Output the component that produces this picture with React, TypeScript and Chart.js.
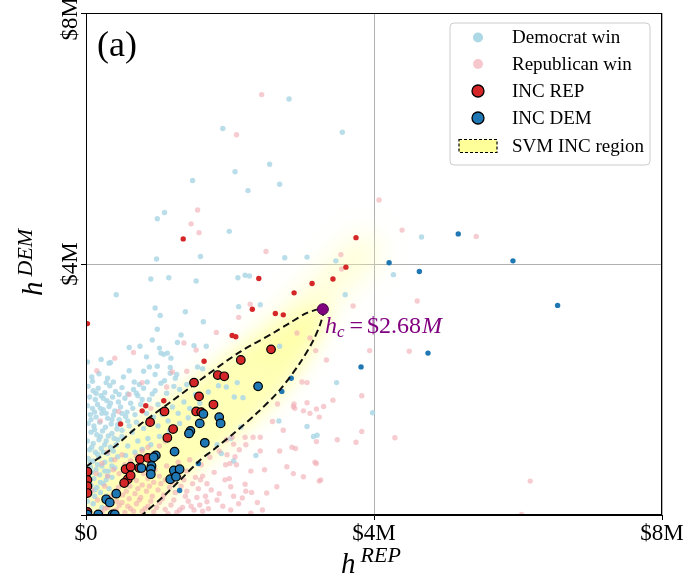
import React, { useEffect, useRef } from 'react';
import { Chart, registerables } from 'chart.js';

Chart.register(...registerables);

type Pt = [number, number];

// All values in $ millions: [h_REP, h_DEM]
const democratWin: Pt[] = [
  // scattered
  [2.82, 6.63], [1.9, 6.16], [3.56, 6.1], [2.55, 5.59], [2.07, 5.47], [1.48, 5.33], [2.69, 5.27], [2.25, 5.17],
  [1.09, 4.82], [0.99, 4.72], [1.99, 4.52], [4.66, 4.43], [1.59, 4.12], [0.98, 4.08], [2.76, 4.1], [3.07, 4.11],
  [3.47, 4.05], [4.27, 3.83], [1.15, 3.78], [2.11, 3.78], [2.21, 3.82], [2.27, 3.81], [0.9, 3.76], [1.53, 3.73],
  [0.42, 3.51], [0.96, 3.3], [1.03, 3.18], [1.38, 3.24], [1.63, 3.08], [2.12, 3.32], [3.6, 3.51], [2.42, 3.35],
  [0.99, 2.96], [1.32, 2.87], [0.92, 2.79], [0.6, 2.67], [0.75, 2.69], [1.02, 2.66], [1.04, 2.58], [1.08, 2.56],
  [1.13, 2.58], [1.18, 2.5], [1.27, 2.75], [1.5, 2.7], [1.67, 2.69], [2.69, 2.69], [0.84, 2.52], [0.21, 2.48],
  [0.32, 2.42], [0.34, 2.43], [0.02, 2.44], [0.88, 2.36], [0.99, 2.37], [1.17, 2.35], [1.17, 2.26], [0.8, 2.29],
  [0.96, 2.24], [1.26, 2.24], [1.55, 2.36], [1.62, 2.33], [1.09, 2.14], [1.24, 2.18], [0.67, 2.12], [0.28, 2.11],
  [0.09, 2.13], [3.48, 2.11], [3.98, 1.63], [3.21, 1.27], [3.07, 1.41], [3.16, 1.25], [2.68, 1.5], [2.36, 0.95],
  [1.82, 1.12], [1.88, 0.98], [2.05, 0.86], [2.01, 1.22], [2.15, 1.4], [2.06, 1.88], [1.95, 2.04], [2.1, 2.11],
  [2.18, 1.87],
  // dense cloud, upper left
  [0.03, 2.05], [0.1, 1.98], [0.17, 2.02], [0.26, 1.95], [0.33, 2.06], [0.41, 1.97], [0.5, 2.03], [0.58, 1.93], [0.66, 2.0],
  [0.05, 1.88], [0.13, 1.84], [0.21, 1.9], [0.29, 1.82], [0.37, 1.88], [0.45, 1.8], [0.54, 1.86], [0.62, 1.78],
  [0.02, 1.74], [0.09, 1.7], [0.16, 1.76], [0.24, 1.68], [0.32, 1.73], [0.4, 1.66], [0.48, 1.72], [0.57, 1.64], [0.65, 1.7],
  [0.06, 1.6], [0.14, 1.56], [0.22, 1.62], [0.3, 1.54], [0.38, 1.59], [0.46, 1.52], [0.55, 1.57],
  [0.03, 1.46], [0.11, 1.42], [0.19, 1.48], [0.27, 1.4], [0.35, 1.45], [0.43, 1.37],
  [0.07, 1.32], [0.15, 1.28], [0.23, 1.34], [0.31, 1.26], [0.39, 1.22],
  [0.02, 1.18], [0.1, 1.14], [0.18, 1.2], [0.26, 1.12],
  [0.08, 2.2], [0.18, 2.25], [0.3, 2.18], [0.52, 2.2], [0.6, 2.3], [0.74, 2.08], [0.92, 1.93], [1.0, 1.76],
  [0.84, 1.62], [0.7, 1.48], [0.6, 1.42], [0.5, 1.62], [0.58, 1.5], [0.07, 1.52], [0.12, 1.64], [0.2, 1.7],
  [0.28, 1.62], [0.36, 1.52], [0.44, 1.44], [0.5, 1.35], [0.12, 1.36], [0.2, 1.25], [0.28, 1.18], [0.36, 1.3],
  [0.44, 1.2], [0.46, 1.92], [0.7, 1.94], [0.78, 1.84], [0.38, 2.12], [0.14, 1.94], [0.24, 1.86], [0.34, 1.78],
  // dense cloud, near origin
  [0.05, 1.04], [0.13, 1.0], [0.21, 1.06], [0.3, 0.98], [0.38, 1.02],
  [0.03, 0.9], [0.1, 0.86], [0.18, 0.92], [0.26, 0.84], [0.35, 0.88], [0.44, 0.93],
  [0.06, 0.76], [0.14, 0.72], [0.22, 0.78], [0.31, 0.7], [0.4, 0.75],
  [0.03, 0.62], [0.11, 0.58], [0.19, 0.64], [0.28, 0.56], [0.36, 0.6],
  [0.07, 0.48], [0.15, 0.44], [0.24, 0.5], [0.32, 0.42],
  [0.04, 0.34], [0.12, 0.3], [0.2, 0.36], [0.1, 0.18], [0.22, 0.12], [0.05, 0.06],
  [0.08, 1.08], [0.16, 0.97], [0.24, 1.0], [0.34, 1.08], [0.42, 1.12], [0.06, 0.84], [0.16, 0.8], [0.26, 0.7],
  [0.36, 0.78], [0.08, 0.68], [0.2, 0.52], [0.3, 0.62], [0.02, 0.52], [0.12, 0.4], [0.28, 0.3], [0.02, 0.22],
  // inside the band
  [0.5, 1.25], [0.58, 1.1], [0.64, 1.32], [0.72, 1.18], [0.8, 1.38], [0.86, 1.22], [0.94, 1.56], [1.0, 1.42],
  [1.06, 1.6], [1.14, 1.5], [1.2, 1.72], [1.28, 1.62], [1.36, 1.8], [1.44, 1.7], [1.52, 1.92], [0.55, 0.95],
  [0.68, 1.0], [0.78, 1.05], [0.9, 1.12], [1.02, 1.25], [1.16, 1.34], [1.3, 1.46], [1.42, 1.55], [1.58, 1.78],
  [1.7, 1.96], [1.84, 2.06],
  // above the band
  [0.72, 1.9], [0.8, 2.02], [0.88, 1.84], [0.96, 1.98], [1.04, 2.1], [1.12, 1.94], [1.22, 2.05], [0.76, 1.76],
  [0.68, 1.6], [1.3, 2.0], [1.4, 2.08], [0.85, 2.12],
];

const republicanWin: Pt[] = [
  // scattered
  [2.44, 6.7], [2.09, 6.06], [4.07, 5.02], [1.55, 4.86], [1.46, 4.64], [1.57, 4.5], [4.39, 4.54], [2.5, 4.2],
  [3.54, 4.15], [3.55, 3.92], [5.42, 4.44], [4.6, 3.41], [4.49, 2.61], [3.94, 2.62], [2.12, 3.15], [1.81, 2.91],
  [0.66, 2.59], [1.36, 2.74], [1.53, 2.63], [1.4, 2.29], [0.78, 2.11], [1.12, 2.04], [2.28, 3.36], [3.71, 3.33],
  [3.83, 1.9], [3.75, 1.16], [2.93, 2.9], [3.11, 2.82], [3.19, 2.62], [3.34, 2.47], [3.43, 1.83], [3.3, 1.73],
  [3.11, 1.62], [2.88, 1.73], [3.2, 0.82], [3.26, 0.56], [2.79, 0.77], [2.88, 0.66], [2.65, 0.45], [2.51, 0.35],
  [3.83, 1.33], [4.29, 1.23], [6.17, 0.54], [6.05, 0.01], [3.07, 2.11], [3.0, 2.12], [3.07, 1.79], [2.89, 1.77],
  [2.9, 1.7], [3.02, 1.66], [3.2, 1.69], [3.24, 1.56], [2.66, 1.77], [2.59, 1.49], [2.74, 1.35], [3.2, 1.17],
  [3.49, 1.2], [2.86, 1.08], [2.91, 1.06], [2.69, 1.02], [2.42, 1.02], [2.32, 1.24], [2.42, 1.24], [3.18, 0.84],
  [3.24, 0.54], [3.02, 0.61], [2.48, 0.72], [2.29, 0.7], [2.21, 0.49], [2.22, 0.38], [2.17, 0.27], [2.01, 0.45],
  [1.99, 0.58], [1.93, 0.56], [1.94, 0.8], [1.82, 0.24], [2.45, 0.08], [2.01, 0.08], [2.29, 0.03], [1.68, 0.21],
  [1.59, 0.56], [2.13, 1.04], [2.22, 1.12], [2.05, 1.13], [2.03, 1.24], [2.21, 1.24], [2.07, 0.93], [1.96, 0.96],
  [2.0, 0.82], [2.09, 0.8],
  // dense, near the h_REP axis
  [0.22, 0.04], [0.3, 0.12], [0.38, 0.06], [0.46, 0.15], [0.54, 0.04], [0.62, 0.1], [0.7, 0.18], [0.78, 0.06],
  [0.86, 0.14], [0.94, 0.05], [1.02, 0.2], [1.1, 0.09], [1.18, 0.16], [1.26, 0.04], [1.34, 0.12], [1.42, 0.22],
  [1.5, 0.08], [1.58, 0.16],
  [0.27, 0.24], [0.35, 0.3], [0.43, 0.22], [0.51, 0.32], [0.6, 0.26], [0.68, 0.34], [0.76, 0.28], [0.84, 0.38],
  [0.92, 0.3], [1.0, 0.4], [1.08, 0.32], [1.16, 0.44], [1.24, 0.36], [1.32, 0.46], [1.4, 0.38], [1.48, 0.5], [1.56, 0.42],
  [0.45, 0.44], [0.53, 0.52], [0.61, 0.46], [0.7, 0.55], [0.78, 0.48], [0.86, 0.58], [0.94, 0.52], [1.02, 0.62],
  [1.1, 0.56], [1.2, 0.66], [1.3, 0.6], [1.4, 0.7],
  [0.26, 0.1], [0.34, 0.18], [0.42, 0.08], [0.5, 0.2], [0.58, 0.14], [0.66, 0.06], [0.74, 0.24], [0.82, 0.1],
  [0.9, 0.22], [0.98, 0.12], [1.06, 0.26], [1.14, 0.02], [1.22, 0.24], [1.3, 0.08], [1.38, 0.3], [1.46, 0.14],
  [1.54, 0.28], [1.62, 0.06], [0.4, 0.36], [0.56, 0.38], [0.72, 0.42], [0.88, 0.46], [1.04, 0.5], [1.2, 0.52],
  [1.36, 0.56], [1.52, 0.6], [0.64, 0.62], [0.8, 0.66], [0.96, 0.72], [1.12, 0.78], [1.28, 0.84], [1.44, 0.88],
  [1.66, 0.3], [1.74, 0.4], [1.7, 0.1], [1.85, 0.34], [1.9, 0.14], [2.05, 0.3], [2.12, 0.18], [2.3, 0.36],
  [2.38, 0.2], [1.62, 0.62], [1.78, 0.68], [1.6, 0.8], [1.72, 0.92], [1.85, 1.02], [1.95, 1.2], [1.68, 0.5],
  // inside the band
  [0.3, 0.62], [0.38, 0.72], [0.46, 0.66], [0.54, 0.8], [0.62, 0.86], [0.7, 0.94], [0.78, 1.02], [0.86, 1.08],
  [0.94, 0.98], [1.02, 1.1], [1.1, 1.18], [0.5, 0.96], [0.4, 0.88], [0.3, 1.0], [0.22, 0.82], [0.14, 0.66],
  [0.08, 0.4], [0.16, 0.24], [0.26, 0.46],
  // few in the upper cloud
  [0.15, 2.3], [0.4, 2.5], [0.6, 1.92], [0.9, 1.7], [1.2, 2.28], [0.2, 1.5], [0.45, 1.65],
];

const incRep: Pt[] = [
  [2.57, 2.64], [2.15, 2.47], [1.83, 2.23], [1.92, 2.21], [1.5, 2.11], [1.57, 1.89], [1.77, 1.76], [1.09, 1.65],
  [1.53, 1.65], [1.6, 1.64], [0.89, 1.48], [1.21, 1.37], [1.13, 1.23], [0.75, 0.89], [0.86, 0.91], [0.55, 0.73],
  [0.62, 0.77], [0.74, 0.75], [0.58, 0.57], [0.62, 0.63], [0.53, 0.51], [0.02, 0.69], [0.02, 0.56], [0.02, 0.46],
  [0.02, 0.35], [0.02, 0.05],
];

const incDem: Pt[] = [
  [2.39, 2.05], [1.63, 1.61], [1.85, 1.56], [1.87, 1.46], [1.58, 1.46], [1.45, 1.34], [1.43, 1.3], [1.65, 1.15],
  [1.23, 1.01], [0.97, 0.95], [0.94, 0.92], [0.77, 0.75], [0.91, 0.78], [0.9, 0.73], [0.9, 0.65], [1.22, 0.71],
  [1.3, 0.73], [1.17, 0.57], [1.25, 0.61], [0.42, 0.34], [0.28, 0.25], [0.33, 0.2], [0.02, 0.01], [0.17, 0.01],
  [0.37, 0.01], [0.4, 0.01],
];

const otherRep: Pt[] = [
  [1.35, 4.4], [3.75, 4.42], [3.61, 3.95], [2.4, 3.77], [3.43, 3.76], [2.89, 3.54], [3.14, 3.69], [2.31, 3.28],
  [2.63, 3.21], [2.74, 3.19], [2.03, 2.86], [2.08, 2.84], [1.64, 2.45], [1.08, 1.82], [0.83, 1.74], [0.78, 1.66],
  [0.48, 1.45], [0.02, 3.05],
];

const otherDem: Pt[] = [
  [5.17, 4.48], [4.21, 4.02], [4.63, 3.88], [5.93, 4.05], [6.55, 3.34], [4.75, 2.58], [3.82, 2.36], [2.85, 2.18],
  [2.72, 1.97], [1.56, 0.82], [1.3, 0.39],
];

const svmBoundary: Pt[] = [
  [0, 0.77], [0.375, 1.07], [0.75, 1.44], [1.21, 1.83], [1.68, 2.23], [2.14, 2.6], [2.6, 2.9], [2.83, 3.06],
  [3.07, 3.22], [3.29, 3.28], [3.27, 3.1], [3.16, 2.79], [2.97, 2.42], [2.69, 1.99], [2.37, 1.62], [2.05, 1.3],
  [1.77, 1.04], [1.59, 0.88], [1.31, 0.56], [1.07, 0.29], [0.78, 0],
];

const svmGlowAxis: Pt[] = [[2.5, 2.65], [3.85, 4.2]];
const hcPoint: Pt[] = [[3.29, 3.28]];
const hcValueText = '$2.68';

const axisTickValues = [0, 4, 8];
const xTickLabels = ['$0', '$4M', '$8M'];
const yTickLabels = ['', '$4M', '$8M'];
const legendLabels = ['Democrat win', 'Republican win', 'INC REP', 'INC DEM', 'SVM INC region'];
const panelLabel = '(a)';

const SERIF = '"Liberation Serif", "Times New Roman", serif';
const DEM_LIGHT = 'rgba(173,216,230,0.85)';
const REP_LIGHT = 'rgba(240,170,178,0.6)';
const RED = '#d62728';
const BLUE = '#1f77b4';
const PURPLE = '#800080';

const toXY = (arr: Pt[]) => arr.map(([x, y]) => ({ x, y }));

const decorPlugin = {
  id: 'decor',
  beforeDatasetsDraw(chart: any) {
    const { ctx, chartArea: a, scales } = chart;
    const xs = scales.x;
    const ys = scales.y;
    ctx.save();
    ctx.beginPath();
    ctx.rect(a.left, a.top, a.right - a.left, a.bottom - a.top);
    ctx.clip();
    // glow along the diagonal beyond the tip
    ctx.filter = 'blur(14px)';
    ctx.beginPath();
    ctx.moveTo(xs.getPixelForValue(svmGlowAxis[0][0]), ys.getPixelForValue(svmGlowAxis[0][1]));
    ctx.lineTo(xs.getPixelForValue(svmGlowAxis[1][0]), ys.getPixelForValue(svmGlowAxis[1][1]));
    ctx.lineCap = 'round';
    ctx.lineWidth = 34;
    ctx.strokeStyle = 'rgba(255,255,175,0.5)';
    ctx.stroke();
    // the region itself
    ctx.filter = 'blur(8px)';
    ctx.beginPath();
    svmBoundary.forEach(([vx, vy], i) => {
      const px = xs.getPixelForValue(vx);
      const py = ys.getPixelForValue(vy);
      if (i === 0) ctx.moveTo(px, py);
      else ctx.lineTo(px, py);
    });
    ctx.lineTo(xs.getPixelForValue(0), ys.getPixelForValue(0));
    ctx.closePath();
    ctx.lineWidth = 22;
    ctx.lineJoin = 'round';
    ctx.strokeStyle = 'rgba(255,255,175,0.35)';
    ctx.stroke();
    ctx.fillStyle = 'rgba(255,255,150,0.68)';
    ctx.fill();
    ctx.restore();
  },
  afterDraw(chart: any) {
    const { ctx, chartArea: a, scales } = chart;
    const xs = scales.x;
    const ys = scales.y;
    ctx.save();
    // frame
    ctx.strokeStyle = '#000';
    ctx.lineWidth = 1;
    ctx.strokeRect(a.left + 0.5, a.top + 0.5, a.right - a.left - 1, a.bottom - a.top - 1);

    // x tick labels
    ctx.fillStyle = '#000';
    ctx.font = `23px ${SERIF}`;
    ctx.textAlign = 'center';
    ctx.textBaseline = 'alphabetic';
    axisTickValues.forEach((v, i) => {
      ctx.fillText(xTickLabels[i], xs.getPixelForValue(v), a.bottom + 25);
    });
    // y tick labels (rotated)
    axisTickValues.forEach((v, i) => {
      const label = yTickLabels[i];
      if (!label) return;
      const w = ctx.measureText(label).width;
      let py = ys.getPixelForValue(v);
      py = Math.max(py, w / 2 - 3);
      ctx.save();
      ctx.translate(a.left - 9, py);
      ctx.rotate(-Math.PI / 2);
      ctx.fillText(label, 0, 0);
      ctx.restore();
    });

    // x axis title h^{REP}
    ctx.textAlign = 'left';
    ctx.font = `italic 29px ${SERIF}`;
    const hW = ctx.measureText('h').width;
    const xTitleX = (a.left + a.right) / 2 - 33;
    ctx.fillText('h', xTitleX, a.bottom + 58);
    ctx.font = `italic 22px ${SERIF}`;
    ctx.fillText('REP', xTitleX + hW + 5, a.bottom + 47);

    // y axis title h^{DEM}
    ctx.save();
    ctx.translate(a.left - 44, (a.top + a.bottom) / 2 + 32);
    ctx.rotate(-Math.PI / 2);
    ctx.font = `italic 29px ${SERIF}`;
    ctx.fillText('h', 0, 0);
    ctx.font = `italic 22px ${SERIF}`;
    ctx.fillText('DEM', hW + 5, -10);
    ctx.restore();

    // panel label
    ctx.font = `36px ${SERIF}`;
    ctx.fillText(panelLabel, a.left + 11, a.top + 43);

    // h_c label
    const hx = xs.getPixelForValue(hcPoint[0][0]) + 2;
    const hy = ys.getPixelForValue(hcPoint[0][1]) + 24;
    ctx.fillStyle = PURPLE;
    ctx.font = `italic 24px ${SERIF}`;
    ctx.fillText('h', hx, hy);
    let cx = hx + ctx.measureText('h').width;
    ctx.font = `italic 17px ${SERIF}`;
    ctx.fillText('c', cx, hy + 4);
    cx += ctx.measureText('c').width + 5;
    ctx.font = `24px ${SERIF}`;
    ctx.fillText('=', cx, hy);
    cx += ctx.measureText('=').width + 4;
    ctx.fillText(hcValueText, cx, hy);
    cx += ctx.measureText(hcValueText).width + 1;
    ctx.font = `italic 24px ${SERIF}`;
    ctx.fillText('M', cx, hy);

    // legend
    const lx = a.right - 212;
    const ly = a.top + 10;
    const bw = 200;
    const bh = 142;
    ctx.beginPath();
    const r = 4;
    ctx.moveTo(lx + r, ly);
    ctx.arcTo(lx + bw, ly, lx + bw, ly + bh, r);
    ctx.arcTo(lx + bw, ly + bh, lx, ly + bh, r);
    ctx.arcTo(lx, ly + bh, lx, ly, r);
    ctx.arcTo(lx, ly, lx + bw, ly, r);
    ctx.closePath();
    ctx.fillStyle = 'rgba(255,255,255,0.85)';
    ctx.fill();
    ctx.strokeStyle = '#cccccc';
    ctx.lineWidth = 1;
    ctx.stroke();

    const rows = [14.5, 41, 68, 95, 123];
    const mx = lx + 28;
    const tx = lx + 62;
    ctx.font = `19px ${SERIF}`;
    ctx.textBaseline = 'middle';
    rows.forEach((dy, i) => {
      const y = ly + dy;
      ctx.save();
      if (i === 0 || i === 1) {
        ctx.beginPath();
        ctx.arc(mx, y, 5, 0, Math.PI * 2);
        ctx.fillStyle = i === 0 ? 'rgb(173,216,230)' : 'rgb(246,200,205)';
        ctx.fill();
      } else if (i === 2 || i === 3) {
        ctx.beginPath();
        ctx.arc(mx, y, 6, 0, Math.PI * 2);
        ctx.fillStyle = i === 2 ? RED : BLUE;
        ctx.fill();
        ctx.lineWidth = 1.3;
        ctx.strokeStyle = '#000';
        ctx.stroke();
      } else {
        ctx.fillStyle = '#ffff99';
        ctx.fillRect(mx - 19, y - 6.5, 38, 13);
        ctx.setLineDash([3, 2]);
        ctx.lineWidth = 1.2;
        ctx.strokeStyle = '#000';
        ctx.strokeRect(mx - 19, y - 6.5, 38, 13);
      }
      ctx.restore();
      ctx.fillStyle = '#000';
      ctx.fillText(legendLabels[i], tx, y + 1);
    });
    ctx.restore();
  },
};

export default function App() {
  const ref = useRef<HTMLCanvasElement>(null);
  useEffect(() => {
    const canvas = ref.current;
    if (!canvas) return;
    const smallPoint = (color: string) => ({
      pointRadius: 2.7,
      pointHoverRadius: 2.7,
      pointBackgroundColor: color,
      pointBorderWidth: 0,
      pointBorderColor: color,
      showLine: false,
    });
    const incPoint = (color: string) => ({
      pointRadius: 4.3,
      pointHoverRadius: 4.3,
      pointBackgroundColor: color,
      pointBorderColor: '#000',
      pointBorderWidth: 1.2,
      showLine: false,
    });
    const chart = new Chart(canvas, {
      type: 'scatter',
      data: {
        datasets: [
          { label: legendLabels[0], data: toXY(democratWin), order: 10, ...smallPoint(DEM_LIGHT) },
          { label: legendLabels[1], data: toXY(republicanWin), order: 9, ...smallPoint(REP_LIGHT) },
          { label: 'other REP', data: toXY(otherRep), order: 8, ...smallPoint(RED) },
          { label: 'other DEM', data: toXY(otherDem), order: 7, ...smallPoint(BLUE) },
          {
            label: legendLabels[4],
            data: toXY(svmBoundary),
            order: 5,
            showLine: true,
            borderColor: '#111',
            borderWidth: 2,
            borderDash: [7, 4],
            tension: 0.3,
            pointRadius: 0,
            pointHoverRadius: 0,
            fill: false,
          },
          { label: legendLabels[2], data: toXY(incRep), order: 3, ...incPoint(RED) },
          { label: legendLabels[3], data: toXY(incDem), order: 2, ...incPoint(BLUE) },
          {
            label: 'h_c',
            data: toXY(hcPoint),
            order: 1,
            pointRadius: 5.5,
            pointHoverRadius: 5.5,
            pointBackgroundColor: PURPLE,
            pointBorderColor: '#4a004a',
            pointBorderWidth: 1,
            showLine: false,
          },
        ] as any,
      },
      options: {
        animation: false,
        responsive: false,
        devicePixelRatio: 1,
        events: [],
        layout: { padding: { top: 13, right: 24, left: 0, bottom: 0 } },
        plugins: {
          legend: { display: false },
          tooltip: { enabled: false },
          title: { display: false },
        },
        scales: {
          x: {
            type: 'linear',
            min: 0,
            max: 8,
            ticks: { display: false, stepSize: 4 },
            grid: { color: '#b0b0b0', lineWidth: 1, drawTicks: true, tickLength: 5, tickColor: '#000' },
            border: { display: true, color: '#000', width: 1 },
            afterFit: (s: any) => { s.height = 70; },
          },
          y: {
            type: 'linear',
            min: 0,
            max: 8,
            ticks: { display: false, stepSize: 4 },
            grid: { color: '#b0b0b0', lineWidth: 1, drawTicks: true, tickLength: 5, tickColor: '#000' },
            border: { display: true, color: '#000', width: 1 },
            afterFit: (s: any) => { s.width = 86; },
          },
        },
      } as any,
      plugins: [decorPlugin],
    });
    return () => chart.destroy();
  }, []);
  return (
    <div style={{ position: 'absolute', left: 0, top: 0, width: 686, height: 585, background: '#fff' }}>
      <canvas ref={ref} width={686} height={585} style={{ display: 'block', width: 686, height: 585 }} />
    </div>
  );
}
